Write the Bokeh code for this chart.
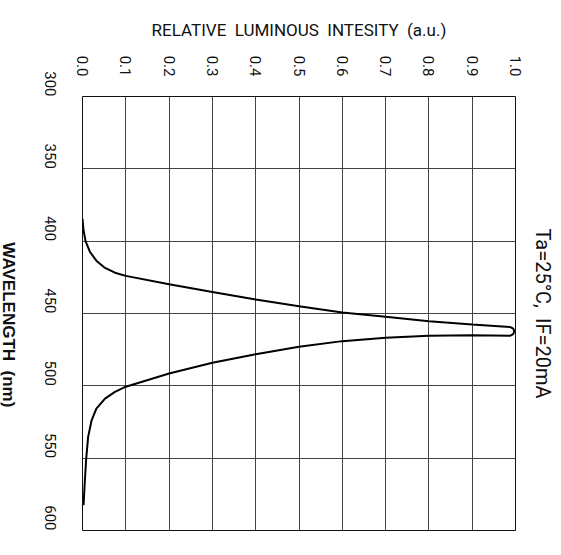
import math
from bokeh.plotting import figure
from bokeh.layouts import row
from bokeh.models import FixedTicker, LinearAxis
from bokeh.core.properties import value
from bokeh.embed import file_html
from bokeh.resources import INLINE

# relative luminous intensity (a.u.) and wavelength (nm) along the traced curve
intensity = [0.0, 0.002, 0.007, 0.017, 0.032, 0.052, 0.075, 0.1, 0.2, 0.3, 0.4, 0.5,
             0.6, 0.7, 0.8, 0.9, 0.987, 0.995, 0.997, 0.995, 0.987, 0.9, 0.8, 0.7,
             0.6, 0.5, 0.4, 0.3, 0.2, 0.1, 0.075, 0.052, 0.032, 0.021, 0.013, 0.0085,
             0.0055, 0.0024]
wavelength = [384.6, 391.5, 400.0, 407.3, 413.5, 418.5, 421.8, 424.0, 429.8, 435.2, 440.3, 445.0,
              449.3, 452.3, 455.3, 457.6, 459.3, 460.5, 462.3, 464.2, 465.4, 465.0, 465.3, 466.7,
              469.1, 473.0, 478.1, 484.1, 491.5, 500.6, 504.2, 508.8, 515.7, 523.8, 535.3, 550.5,
              565.2, 582.5]

x_ticks = [0.0, 0.1, 0.2, 0.3, 0.4, 0.5, 0.6, 0.7, 0.8, 0.9, 1.0]
y_ticks = [300, 350, 400, 450, 500, 550, 600]

x_title = "RELATIVE\u00a0\u00a0LUMINOUS\u00a0\u00a0INTESITY\u00a0\u00a0(a.u.)"
y_title = "WAVELENGTH\u00a0\u00a0(nm)"
note = "Ta=25°C,\u00a0\u00a0IF=20mA"

FONT = "Roboto"
INK = "#111111"
H = 555
LEFT_W = 30

# narrow strip on the left holding the wavelength title (reads top to bottom)
side = figure(width=LEFT_W, height=H, x_range=(0, LEFT_W), y_range=(H, 0),
              output_backend="svg", toolbar_location=None,
              x_axis_location=None, y_axis_location=None, min_border=0)
side.grid.visible = False
side.outline_line_color = None
side.background_fill_color = "white"
side.border_fill_color = "white"
side.text(x=[8.0], y=[292], text=[y_title], angle=-math.pi / 2,
          text_align="center", text_baseline="middle",
          text_font=value("Liberation Sans"), text_font_size="17px",
          text_font_style="bold", text_color=INK)

p = figure(width=561 - LEFT_W, height=H, x_range=(0, 1), y_range=(600, 300),
           output_backend="svg", toolbar_location=None, x_axis_location="above",
           min_border_left=82 - LEFT_W, min_border_top=96, min_border_right=46,
           min_border_bottom=25)

p.xaxis.ticker = FixedTicker(ticks=x_ticks)
p.yaxis.ticker = FixedTicker(ticks=y_ticks)
p.xaxis.major_label_overrides = {t: f"{t:.1f}" for t in x_ticks}

for ax in (p.xaxis[0], p.yaxis[0]):
    ax.major_label_orientation = -math.pi / 2
    ax.major_tick_line_color = None
    ax.minor_tick_line_color = None
    ax.axis_line_color = None
    ax.major_label_text_font = FONT
    ax.major_label_text_font_size = "15px"
    ax.major_label_text_color = INK

p.xaxis.major_label_standoff = 14
p.yaxis.major_label_standoff = 26

p.xaxis.axis_label = x_title
p.xaxis.axis_label_text_font = FONT
p.xaxis.axis_label_text_font_size = "17px"
p.xaxis.axis_label_text_font_style = "normal"
p.xaxis.axis_label_text_color = INK
p.xaxis.axis_label_standoff = 13

# right-hand axis carrying only the measurement-condition note
note_axis = LinearAxis(ticker=FixedTicker(ticks=[]), axis_label=note,
                       axis_line_color=None, major_tick_line_color=None,
                       minor_tick_line_color=None, major_tick_out=0, major_tick_in=0,
                       major_label_standoff=0, axis_label_standoff=15,
                       axis_label_text_font=FONT, axis_label_text_font_size="20px",
                       axis_label_text_font_style="normal", axis_label_text_color=INK)
p.add_layout(note_axis, "right")

p.xgrid.ticker = FixedTicker(ticks=x_ticks)
p.ygrid.ticker = FixedTicker(ticks=y_ticks)
p.grid.grid_line_color = "#444444"
p.grid.grid_line_alpha = 1.0
p.grid.grid_line_width = 1

p.outline_line_color = INK
p.outline_line_width = 1
p.background_fill_color = "white"
p.border_fill_color = "white"

p.line(intensity, wavelength, line_color="black", line_width=2)

layout = row(side, p, spacing=0)

open("out.html", "w").write(file_html(layout, INLINE))
